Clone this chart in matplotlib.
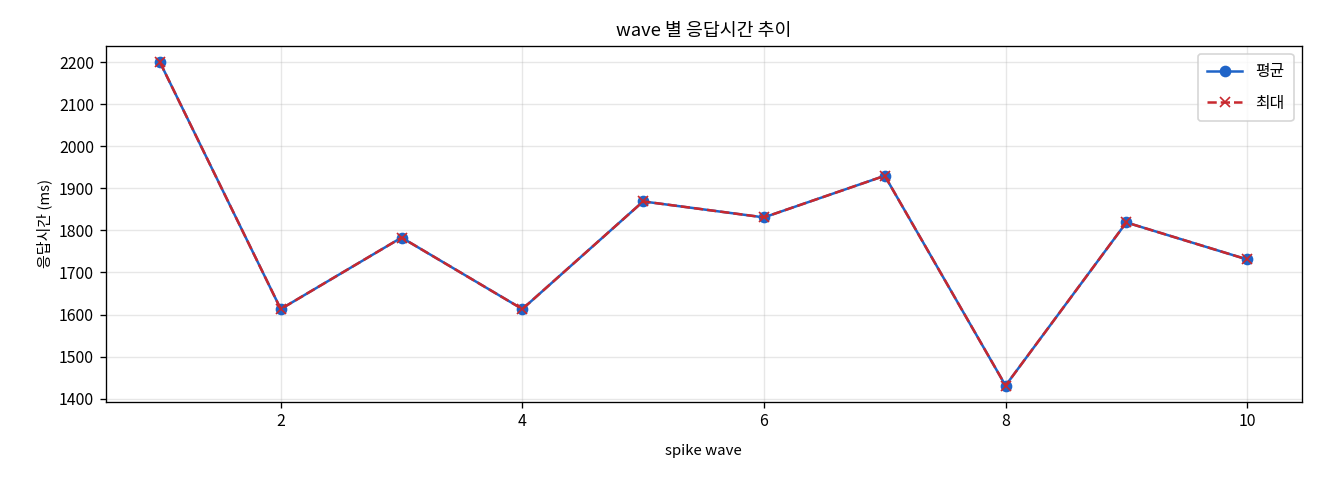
import matplotlib
matplotlib.use('Agg')
import matplotlib.pyplot as plt

plt.rcParams['font.family'] = ['Noto Sans CJK KR', 'DejaVu Sans']
plt.rcParams['axes.unicode_minus'] = False

# wave 번호와 응답시간 (ms)
waves = [1, 2, 3, 4, 5, 6, 7, 8, 9, 10]
avg_ms = [2200, 1613, 1783, 1613, 1869, 1831, 1930, 1431, 1819, 1731]
max_ms = [2200, 1613, 1783, 1613, 1869, 1831, 1930, 1431, 1819, 1731]

fig, ax = plt.subplots(figsize=(11, 4), dpi=120)
ax.plot(waves, avg_ms, marker='o', color='#1f64c8', linewidth=1.5,
        markersize=6, label='평균')
ax.plot(waves, max_ms, marker='x', linestyle='--', color='#c8282e',
        linewidth=1.5, markersize=6, label='최대')

ax.set_title('wave 별 응답시간 추이', fontsize=11)
ax.set_xlabel('spike wave', fontsize=9, labelpad=8)
ax.set_ylabel('응답시간 (ms)', fontsize=9)
ax.tick_params(labelsize=9.5)
ax.grid(True, alpha=0.3)
ax.legend(fontsize=9.5, loc='upper right', labelspacing=0.9,
          handlelength=2.2, borderpad=0.6)

fig.subplots_adjust(left=0.08, right=0.986, top=0.904, bottom=0.163)
fig.savefig('out.png', dpi=120)
